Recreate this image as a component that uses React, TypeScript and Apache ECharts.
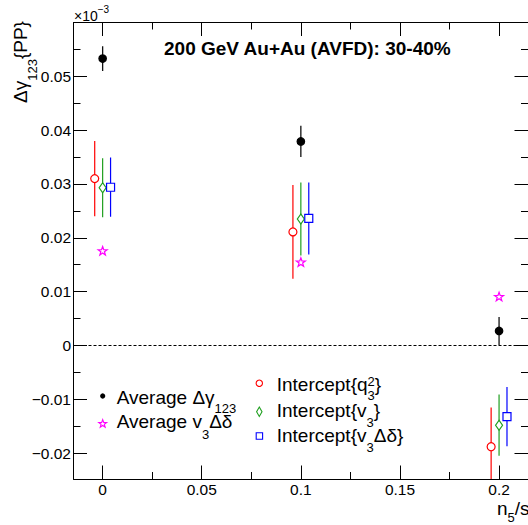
import React, { useEffect, useRef } from 'react';
import * as echarts from 'echarts';

// ---------------- data ----------------
const X_POS = [0, 0.1, 0.2];
const INTERCEPT_SHIFT = 0.004;

const AVG_DGAMMA = [0.0533, 0.0379, 0.0027];
const AVG_DGAMMA_ERR = [0.0023, 0.0029, 0.0026];
const AVG_V3DD = [0.0176, 0.0155, 0.0091];
const INT_Q3 = [0.031, 0.0211, -0.0188];
const INT_Q3_ERR = [0.007, 0.0087, 0.0073];
const INT_V3 = [0.0293, 0.0235, -0.0148];
const INT_V3_ERR = [0.0055, 0.0068, 0.0057];
const INT_V3DD = [0.0294, 0.0236, -0.0132];
const INT_V3DD_ERR = [0.0055, 0.0067, 0.0055];

const X_MIN = -0.0147;
const X_MAX = 0.2146;
const Y_MIN = -0.0248;
const Y_MAX = 0.06;

const X_MAJOR = [0, 0.05, 0.1, 0.15, 0.2];
const X_MAJOR_LABELS = ['0', '0.05', '0.1', '0.15', '0.2'];
const X_MINOR = [0.025, 0.075, 0.125, 0.175];
const Y_MAJOR = [-0.02, -0.01, 0, 0.01, 0.02, 0.03, 0.04, 0.05];
const Y_MAJOR_LABELS = ['\u22120.02', '\u22120.01', '0', '0.01', '0.02', '0.03', '0.04', '0.05'];
const Y_MINOR = [-0.015, -0.005, 0.005, 0.015, 0.025, 0.035, 0.045, 0.055];

const TITLE = '200 GeV Au+Au (AVFD): 30-40%';

// ---------------- styling helpers ----------------
const FONT = '"Liberation Sans", Arial, Helvetica, sans-serif';
const RED = '#ff0000';
const GREEN = '#1f9f1f';
const BLUE = '#0000ff';
const MAGENTA = '#ff00ff';
const BLACK = '#000000';

let measureCtx: CanvasRenderingContext2D | null = null;
function textWidth(t: string, size: number, bold?: boolean): number {
  if (!measureCtx) measureCtx = document.createElement('canvas').getContext('2d');
  if (!measureCtx) return t.length * size * 0.55;
  measureCtx.font = `${bold ? 'bold' : 'normal'} ${size}px ${FONT}`;
  return measureCtx.measureText(t).width;
}

type Piece = { t: string; s: number; dy?: number; noAdv?: boolean; bold?: boolean };
function formula(pieces: Piece[], x0: number, base: number, rotate = false): any {
  let cx = 0;
  const children: any[] = [];
  for (const p of pieces) {
    children.push({
      type: 'text',
      x: cx,
      y: (p.dy || 0) - 0.3465 * p.s,
      silent: true,
      style: {
        text: p.t,
        fontSize: p.s,
        fontFamily: FONT,
        fontWeight: p.bold ? 'bold' : 'normal',
        fill: BLACK,
        align: 'left',
        verticalAlign: 'middle',
      },
    });
    if (!p.noAdv) cx += textWidth(p.t, p.s, p.bold);
  }
  return { type: 'group', x: x0, y: base, rotation: rotate ? Math.PI / 2 : 0, children };
}

function starPoints(cx: number, cy: number, R: number, r: number): number[][] {
  const pts: number[][] = [];
  for (let i = 0; i < 10; i++) {
    const a = -Math.PI / 2 + (i * Math.PI) / 5;
    const rad = i % 2 === 0 ? R : r;
    pts.push([cx + rad * Math.cos(a), cy + rad * Math.sin(a)]);
  }
  return pts;
}
const STAR_PATH =
  'path://' +
  starPoints(50, 50, 50, 20)
    .map((p, i) => `${i === 0 ? 'M' : 'L'}${p[0].toFixed(2)} ${p[1].toFixed(2)}`)
    .join(' ') +
  ' Z';

function labelFor(values: number[], labels: string[]) {
  return (v: number) => {
    const i = values.findIndex((t) => Math.abs(t - v) < 1e-9);
    return i >= 0 ? labels[i] : '';
  };
}

function errSeries(name: string, shift: number, vals: number[], errs: number[], color: string, width = 1.2) {
  return {
    name,
    type: 'custom',
    xAxisIndex: 0,
    yAxisIndex: 0,
    clip: true,
    z: 2,
    silent: true,
    data: X_POS.map((x, i) => [x + shift, vals[i] - errs[i], vals[i] + errs[i]]),
    encode: { x: 0, y: [1, 2] },
    renderItem: (_params: any, api: any) => {
      const p1 = api.coord([api.value(0), api.value(1)]);
      const p2 = api.coord([api.value(0), api.value(2)]);
      return {
        type: 'line',
        shape: { x1: p1[0], y1: p1[1], x2: p2[0], y2: p2[1] },
        style: { stroke: color, lineWidth: width },
      };
    },
  };
}

function pointSeries(name: string, shift: number, vals: number[], symbol: string, size: any, fill: string, stroke: string, extra: any = {}) {
  return {
    name,
    type: 'scatter',
    xAxisIndex: 0,
    yAxisIndex: 0,
    clip: true,
    z: 3,
    silent: true,
    symbol,
    symbolSize: size,
    symbolKeepAspect: true,
    itemStyle: { color: fill, borderColor: stroke, borderWidth: 1.2, opacity: 1 },
    data: X_POS.map((x, i) => [x + shift, vals[i]]),
    ...extra,
  };
}

const tickLine = { color: BLACK, width: 1 };
const labelStyle = { color: BLACK, fontSize: 15.5, fontFamily: FONT };

function xAxis(position: 'bottom' | 'top', major: boolean) {
  return {
    type: 'value',
    position,
    min: X_MIN,
    max: X_MAX,
    splitLine: { show: false },
    axisLine: { show: major, onZero: false, lineStyle: { color: BLACK, width: 1 } },
    axisTick: {
      show: true,
      inside: true,
      length: major ? 13.5 : 7,
      customValues: major ? X_MAJOR : X_MINOR,
      lineStyle: tickLine,
    },
    axisLabel:
      major && position === 'bottom'
        ? { show: true, customValues: X_MAJOR, formatter: labelFor(X_MAJOR, X_MAJOR_LABELS), margin: 2, ...labelStyle }
        : { show: false },
  };
}

function yAxis(position: 'left' | 'right', major: boolean) {
  return {
    type: 'value',
    position,
    min: Y_MIN,
    max: Y_MAX,
    splitLine: { show: false },
    axisLine: { show: major, onZero: false, lineStyle: { color: BLACK, width: 1 } },
    axisTick: {
      show: true,
      inside: true,
      length: major ? 13.5 : 7,
      customValues: major ? Y_MAJOR : Y_MINOR,
      lineStyle: tickLine,
    },
    axisLabel:
      major && position === 'left'
        ? { show: true, customValues: Y_MAJOR, formatter: labelFor(Y_MAJOR, Y_MAJOR_LABELS), margin: 2.5, ...labelStyle }
        : { show: false },
  };
}

function buildOption(): any {
  const LEG = 19;
  const SUB = 13;
  const graphic: any[] = [
    // title
    formula([{ t: TITLE, s: 19, bold: true }], 164, 55),
    // x10^-3
    formula([{ t: '\u00d710', s: 14 }, { t: '\u22123', s: 10, dy: -8.5 }], 74, 21),
    // y axis title (rotated)
    formula([{ t: '\u0394\u03b3', s: 19 }, { t: '123', s: SUB, dy: 10 }, { t: '{PP}', s: 19 }], 26.6, 103, true),
    // x axis title
    formula([{ t: 'n', s: 19 }, { t: '5', s: SUB, dy: 7 }, { t: '/s', s: 19 }], 497, 515),
    // legend text, left column
    formula([{ t: 'Average \u0394\u03b3', s: LEG }, { t: '123', s: SUB, dy: 9.3 }], 116.7, 404),
    formula([{ t: 'Average v', s: LEG }, { t: '3', s: SUB, dy: 10.5 }, { t: '\u0394\u03b4', s: LEG }], 116.7, 428.3),
    // legend text, right column
    formula(
      [{ t: 'Intercept{q', s: LEG }, { t: '2', s: SUB, dy: -4.5, noAdv: true }, { t: '3', s: SUB, dy: 9 }, { t: '}', s: LEG }],
      276.7,
      391
    ),
    formula([{ t: 'Intercept{v', s: LEG }, { t: '3', s: SUB, dy: 10.3 }, { t: '}', s: LEG }], 276.7, 416.7),
    formula([{ t: 'Intercept{v', s: LEG }, { t: '3', s: SUB, dy: 10 }, { t: '\u0394\u03b4}', s: LEG }], 276.7, 441.7),
    // legend markers
    { type: 'circle', silent: true, shape: { cx: 102.7, cy: 396, r: 2.6 }, style: { fill: BLACK } },
    {
      type: 'polygon',
      silent: true,
      shape: { points: starPoints(102.7, 423.8, 4.2, 1.7) },
      style: { fill: '#fff', stroke: MAGENTA, lineWidth: 1.1 },
    },
    { type: 'circle', silent: true, shape: { cx: 259.3, cy: 383.3, r: 3.2 }, style: { fill: '#fff', stroke: RED, lineWidth: 1.1 } },
    {
      type: 'polygon',
      silent: true,
      shape: { points: [[259.3, 407], [262, 411.7], [259.3, 416.4], [256.6, 411.7]] },
      style: { fill: '#fff', stroke: GREEN, lineWidth: 1.1 },
    },
    { type: 'rect', silent: true, shape: { x: 256.2, y: 432.8, width: 6.4, height: 6.4 }, style: { fill: '#fff', stroke: BLUE, lineWidth: 1.1 } },
  ];

  return {
    animation: false,
    backgroundColor: '#ffffff',
    grid: { left: 73.5, top: 22.5, right: -1, bottom: 46, containLabel: false },
    xAxis: [xAxis('bottom', true), xAxis('bottom', false), xAxis('top', true), xAxis('top', false)],
    yAxis: [yAxis('left', true), yAxis('left', false), yAxis('right', true), yAxis('right', false)],
    series: [
      errSeries('errDG', 0, AVG_DGAMMA, AVG_DGAMMA_ERR, '#111', 1.3),
      errSeries('errQ3', -INTERCEPT_SHIFT, INT_Q3, INT_Q3_ERR, RED),
      errSeries('errV3', 0, INT_V3, INT_V3_ERR, GREEN),
      errSeries('errV3DD', INTERCEPT_SHIFT, INT_V3DD, INT_V3DD_ERR, BLUE),
      pointSeries('Average \u0394\u03b3123', 0, AVG_DGAMMA, 'circle', 7.5, BLACK, BLACK, {
        markLine: {
          silent: true,
          symbol: ['none', 'none'],
          label: { show: false },
          lineStyle: { type: [3, 2], color: BLACK, width: 1 },
          data: [{ yAxis: 0 }],
        },
      }),
      pointSeries('Average v3\u0394\u03b4', 0, AVG_V3DD, STAR_PATH, 9, '#fff', MAGENTA),
      pointSeries('Intercept{q3^2}', -INTERCEPT_SHIFT, INT_Q3, 'circle', 8, '#fff', RED),
      pointSeries('Intercept{v3}', 0, INT_V3, 'diamond', [7, 10], '#fff', GREEN, { symbolKeepAspect: false }),
      pointSeries('Intercept{v3\u0394\u03b4}', INTERCEPT_SHIFT, INT_V3DD, 'rect', 8, '#fff', BLUE),
    ],
    graphic,
  };
}

export default function App() {
  const ref = useRef<HTMLDivElement>(null);
  useEffect(() => {
    if (!ref.current) return;
    const chart = echarts.init(ref.current, undefined, { renderer: 'svg' });
    chart.setOption(buildOption());
    return () => chart.dispose();
  }, []);
  return (
    <div
      ref={ref}
      style={{ position: 'fixed', left: 0, top: 0, width: 528, height: 525, background: '#fff' }}
    />
  );
}
